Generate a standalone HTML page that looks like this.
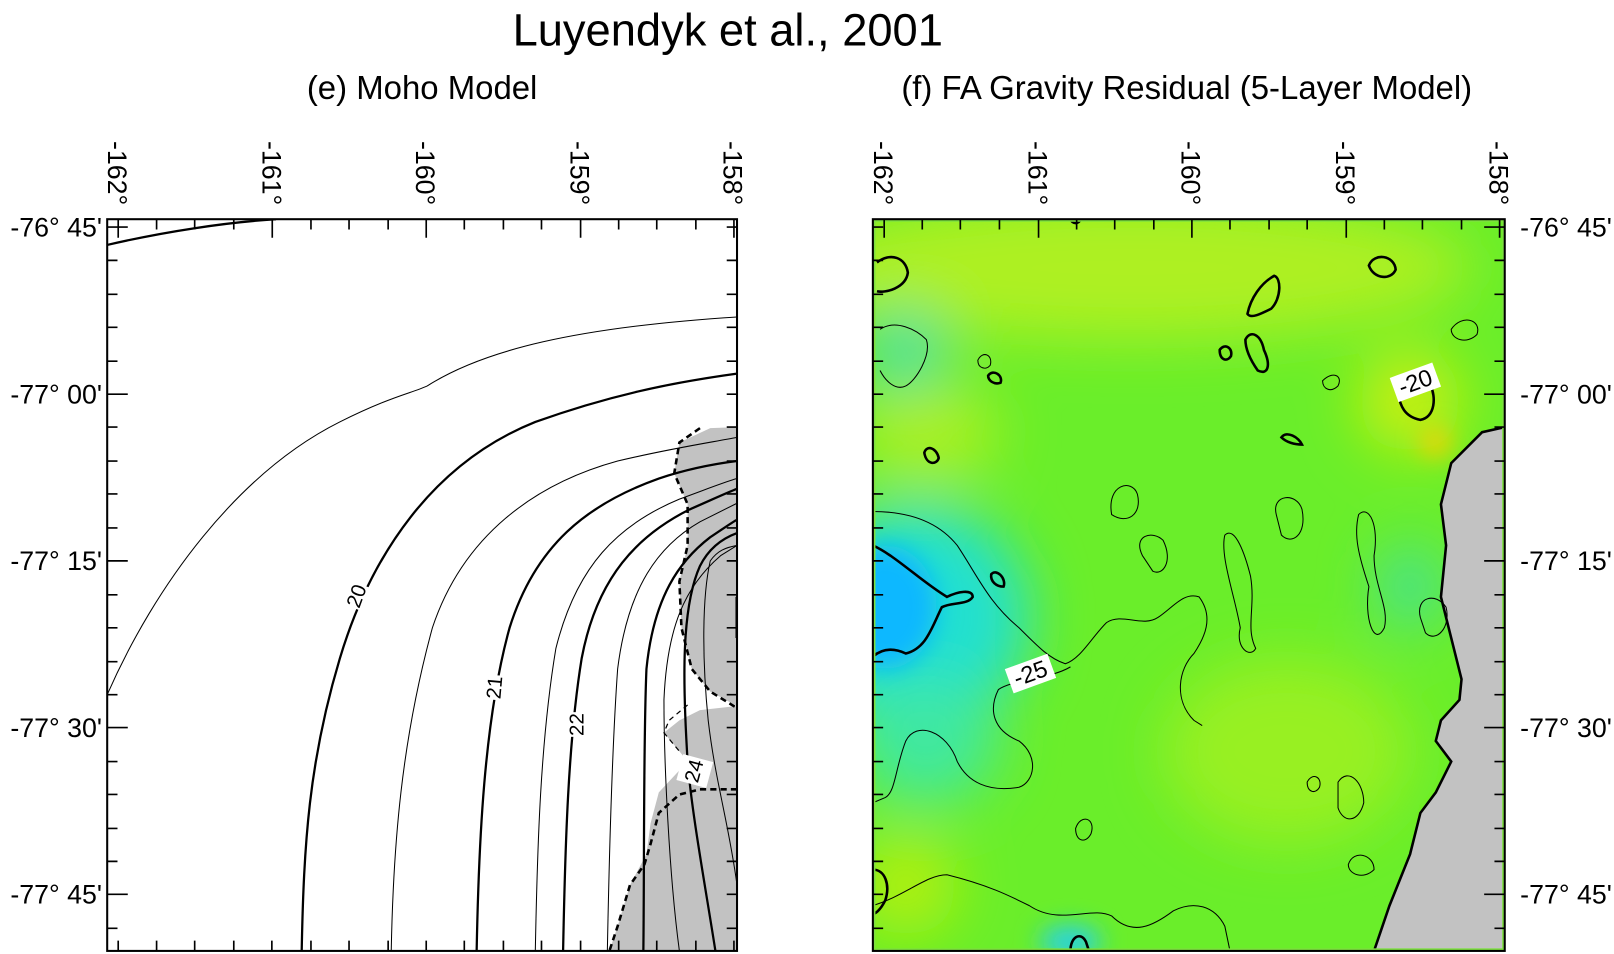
<!DOCTYPE html>
<html><head><meta charset="utf-8"><style>
html,body{margin:0;padding:0;background:#fff;}
svg{display:block;font-family:"Liberation Sans",sans-serif;}
</style></head><body>
<svg width="1614" height="954" viewBox="0 0 1568 927" xmlns="http://www.w3.org/2000/svg">
<defs>
<clipPath id="cl"><rect x="104" y="213" width="612" height="711"/></clipPath>
<clipPath id="cr"><rect x="848" y="213" width="614" height="711"/></clipPath>
<filter id="bl" x="-50%" y="-50%" width="200%" height="200%"><feGaussianBlur stdDeviation="28"/></filter>
<filter id="bl2" x="-50%" y="-50%" width="200%" height="200%"><feGaussianBlur stdDeviation="12"/></filter>
</defs>
<text x="707" y="44" font-size="44" text-anchor="middle">Luyendyk et al., 2001</text>
<text x="410" y="96" font-size="32" text-anchor="middle">(e) Moho Model</text>
<text x="1153" y="96" font-size="32" text-anchor="middle">(f) FA Gravity Residual (5-Layer Model)</text>

<g clip-path="url(#cl)">
<path d="M716,415 L690,416 L660,430 L655,460 L668,490 L668,530 L660,565 L662,610 L672,650 L690,672 L716,686 Z" fill="#c2c2c2"/>
<path d="M716,686 L680,690 L660,700 L645,712 L660,730 L668,740 L640,770 L632,800 L628,830 L612,860 L600,900 L592,924 L716,924 Z" fill="#c2c2c2"/>
<path d="M680,416 L660,430 L655,460 L668,490 L668,530 L660,565 L662,610 L672,650 L690,672 L716,688" fill="none" stroke="#000" stroke-width="2.5" stroke-dasharray="6,4"/>
<path d="M716,767 L680,767 L660,772 L640,790 L632,820 L626,840 L612,860 L600,900 L592,924" fill="none" stroke="#000" stroke-width="2.5" stroke-dasharray="6,4"/>
<path d="M668,685 L650,700 L645,712 L660,730" fill="none" stroke="#000" stroke-width="1.2" stroke-dasharray="5,4"/>
<g fill="none" stroke="#000">
<path d="M104,238 C160,225 220,216 268,213" stroke-width="2.2"/>
<path d="M104,675 C150,570 230,460 330,410 C380,385 400,382 415,375 C470,340 560,318 716,308" stroke-width="1"/>
<path d="M293,924 C295,820 300,740 330,640 C360,540 420,450 520,410 C590,385 650,372 716,363" stroke-width="2.2"/>
<path d="M380,924 C382,820 390,720 420,610 C450,520 520,470 600,448 C650,436 690,430 716,425" stroke-width="1"/>
<path d="M463,924 C465,820 470,700 495,610 C520,530 570,490 640,465 C670,455 700,450 716,448" stroke-width="2.2"/>
<path d="M520,924 C522,820 525,720 540,630 C560,550 600,510 660,485 C690,474 705,468 716,465" stroke-width="1"/>
<path d="M547,924 C549,820 552,720 565,640 C580,560 620,520 670,495 C695,484 708,478 716,475" stroke-width="2.2"/>
<path d="M590,924 C592,820 595,720 600,650 C610,570 640,530 680,507 C700,497 710,492 716,489" stroke-width="1"/>
<path d="M625,924 C626,830 625,720 628,650 C635,580 660,545 690,522 C705,512 712,507 716,505" stroke-width="2.2"/>
<path d="M660,924 C650,850 645,740 645,680 C648,610 665,570 700,540 L716,530" stroke-width="1"/>
<path d="M695,924 C685,860 672,790 668,740 C663,660 662,590 680,550 C690,530 705,522 716,518" stroke-width="2.2"/>
<path d="M716,860 C708,800 695,760 688,700 C682,640 682,580 690,545 C697,535 705,532 716,530" stroke-width="1"/>
<path d="M716,580 L716,620" stroke-width="3"/>
</g>
<rect x="334" y="564" width="24" height="34" fill="#fff" transform="rotate(-70 346 579)"/>
<text x="346" y="586" font-size="20" text-anchor="middle" transform="rotate(-70 346 579)">20</text>
<rect x="468" y="654" width="24" height="32" fill="#fff" transform="rotate(-85 480 668)"/>
<text x="480" y="675" font-size="20" text-anchor="middle" transform="rotate(-85 480 668)">21</text>
<rect x="548" y="688" width="24" height="32" fill="#fff" transform="rotate(-90 560 704)"/>
<text x="560" y="711" font-size="20" text-anchor="middle" transform="rotate(-90 560 704)">22</text>
<rect x="661" y="735" width="26" height="30" fill="#fff" transform="rotate(-75 674 749)"/>
<text x="674" y="756" font-size="20" text-anchor="middle" transform="rotate(-75 674 749)">24</text>
</g>

<g clip-path="url(#cr)">
<rect x="848" y="213" width="614" height="711" fill="#6aee2a"/>
<g filter="url(#bl)">
<ellipse cx="1100" cy="260" rx="330" ry="70" fill="#aef024"/>
<ellipse cx="900" cy="420" rx="70" ry="50" fill="#a8f020"/>
<ellipse cx="1370" cy="390" rx="50" ry="50" fill="#c8f010"/>
<ellipse cx="1250" cy="730" rx="120" ry="90" fill="#98f020"/>
<ellipse cx="880" cy="860" rx="50" ry="50" fill="#b0f010"/>
<ellipse cx="890" cy="600" rx="110" ry="110" fill="#20e0d0"/>
<ellipse cx="900" cy="720" rx="70" ry="60" fill="#40e8a0"/>
<ellipse cx="880" cy="340" rx="40" ry="40" fill="#40e0a0"/>
<ellipse cx="1370" cy="570" rx="30" ry="40" fill="#40e0a0"/>
</g>
<g filter="url(#bl2)">
<ellipse cx="860" cy="590" rx="50" ry="60" fill="#10b8ff"/>
<ellipse cx="1040" cy="915" rx="30" ry="15" fill="#20d0f0"/>
<ellipse cx="1395" cy="430" rx="14" ry="14" fill="#f8d000"/>
</g>
<path d="M1462,415 L1440,420 L1410,450 L1400,490 L1405,530 L1400,580 L1410,620 L1420,660 L1418,680 L1400,700 L1395,720 L1410,740 L1395,770 L1380,790 L1370,830 L1350,880 L1335,924 L1462,924 Z" fill="#c2c2c2" stroke="#000" stroke-width="2.5"/>
<g fill="none" stroke="#000" stroke-width="1">
<path d="M848,497 C880,497 910,505 930,530 C950,560 960,585 990,610 C1010,630 1020,640 1035,645 C1050,640 1060,620 1075,605 C1090,595 1110,610 1125,600 C1140,590 1150,575 1165,580 C1180,600 1170,620 1160,635 C1145,650 1140,680 1160,700 L1168,705"/>
<path d="M1040,648 C1020,660 985,660 970,670 C960,690 965,710 990,720 C1010,735 1005,760 990,765 C960,770 940,760 930,740 C920,710 890,700 880,720 C870,745 870,770 860,775 L848,780"/>
<path d="M848,880 C880,870 900,850 920,850 C960,860 980,870 1000,880 C1030,900 1060,880 1080,890 C1100,910 1120,900 1140,885 C1160,875 1180,880 1190,900 L1195,924"/>
<path d="M1110,540 C1100,520 1120,515 1130,525 C1140,545 1130,560 1120,555 Z"/>
<path d="M1080,500 C1075,470 1100,465 1105,480 C1110,500 1095,510 1080,500 Z"/>
<path d="M1240,500 C1235,480 1260,478 1265,495 C1270,520 1255,530 1245,520 Z"/>
<path d="M1190,520 C1200,510 1210,540 1215,560 C1220,590 1210,610 1220,630 C1215,640 1200,630 1205,610 C1200,580 1185,540 1190,520 Z"/>
<path d="M1320,500 C1330,490 1340,510 1335,540 C1335,570 1350,590 1345,610 C1335,630 1325,600 1330,570 C1320,540 1315,520 1320,500 Z"/>
<path d="M1380,600 C1375,580 1395,575 1405,590 C1410,610 1395,625 1385,615 Z"/>
<path d="M1410,320 C1420,305 1440,310 1435,325 C1425,335 1410,330 1410,320 Z"/>
<path d="M1300,760 C1310,745 1325,760 1325,780 C1320,800 1305,800 1300,785 Z"/>
<path d="M1045,805 C1050,790 1065,795 1060,810 C1055,820 1045,818 1045,805 Z"/>
<path d="M1270,760 C1275,750 1285,755 1282,765 C1278,772 1270,770 1270,760 Z"/>
<path d="M1310,840 C1315,825 1335,830 1335,845 C1325,855 1310,850 1310,840 Z"/>
<path d="M855,320 C870,310 890,320 900,330 C905,345 890,370 880,375 C870,380 860,370 855,360"/>
<path d="M950,350 C955,340 965,345 962,355 C958,360 950,358 950,350 Z"/>
<path d="M1285,370 C1295,360 1305,365 1300,375 C1293,382 1285,378 1285,370 Z"/>
</g>
<g fill="none" stroke="#000" stroke-width="2.5">
<path d="M848,530 C870,540 895,565 920,580 C930,575 945,572 945,580 C940,588 925,585 915,590 C905,610 900,630 880,635 C865,628 855,632 848,638"/>
<path d="M852,255 C865,245 880,250 882,265 C880,280 860,285 852,283"/>
<path d="M1330,258 C1335,245 1355,248 1356,262 C1352,272 1335,272 1330,258 Z"/>
<path d="M1358,380 C1360,395 1365,405 1380,408 C1395,405 1395,385 1390,375"/>
<path d="M1212,305 C1215,290 1225,275 1238,268 C1245,270 1245,290 1235,300 C1225,305 1215,310 1212,305 Z"/>
<path d="M1210,330 C1215,320 1225,325 1228,340 C1235,355 1232,365 1222,360 C1215,350 1210,340 1210,330 Z"/>
<path d="M1185,340 C1190,333 1198,338 1196,346 C1192,352 1185,350 1185,340 Z"/>
<path d="M1245,425 C1250,418 1262,425 1265,432 C1258,432 1250,430 1245,425 Z"/>
<path d="M898,440 C900,432 910,435 912,445 C910,452 900,452 898,440 Z"/>
<path d="M960,365 C965,358 975,365 972,372 C966,374 960,370 960,365 Z"/>
<path d="M963,558 C968,552 978,562 975,570 C968,570 962,565 963,558 Z"/>
<path d="M1040,924 C1040,910 1050,905 1055,915 L1058,924"/>
<path d="M848,845 C860,845 865,860 860,875 C855,885 850,888 848,888"/>
<path d="M1040,213 C1042,218 1048,218 1050,213"/>
</g>
<rect x="979" y="642" width="44" height="25" fill="#fff" transform="rotate(-20 1001 654)"/>
<text x="1001" y="662" font-size="23" text-anchor="middle" transform="rotate(-20 1001 654)">-25</text>
<rect x="1353" y="359" width="44" height="25" fill="#fff" transform="rotate(-20 1375 371)"/>
<text x="1375" y="379" font-size="23" text-anchor="middle" transform="rotate(-20 1375 371)">-20</text>
</g>
<rect x="849" y="214" width="612" height="709" fill="none" stroke="#7ee040" stroke-width="3"/>

<g stroke="#000" stroke-width="2" fill="none">
<rect x="104" y="213" width="612" height="711"/>
<rect x="848" y="213" width="614" height="711"/>
</g>
<g stroke="#000" stroke-width="1.6">
<path d="M104,220.6h20M104,383h20M104,545h20M104,707h20M104,869h20
M104,253h10M104,286h10M104,318h10M104,351h10M104,415h10M104,448h10M104,480h10M104,513h10M104,578h10M104,610h10M104,643h10M104,675h10M104,740h10M104,772h10M104,805h10M104,837h10M104,902h10
M716,220.6h-10M716,253h-10M716,286h-10M716,318h-10M716,351h-10M716,383h-10M716,415h-10M716,448h-10M716,480h-10M716,513h-10M716,545h-10M716,578h-10M716,610h-10M716,643h-10M716,675h-10M716,707h-10M716,740h-10M716,772h-10M716,805h-10M716,837h-10M716,869h-10M716,902h-10"/>
<path d="M114.7,213v18M264.4,213v18M414,213v18M564,213v18M713,213v18
M152,213v10M189,213v10M227,213v10M302,213v10M339,213v10M377,213v10M451,213v10M489,213v10M526,213v10M601,213v10M638,213v10M676,213v10
M114.7,924v-10M152,924v-10M189,924v-10M227,924v-10M264,924v-10M302,924v-10M339,924v-10M377,924v-10M414,924v-10M451,924v-10M489,924v-10M526,924v-10M564,924v-10M601,924v-10M638,924v-10M676,924v-10M713,924v-10"/>
</g>
<g stroke="#000" stroke-width="1.6">
<path d="M1462,220.6h-20M1462,383h-20M1462,545h-20M1462,707h-20M1462,869h-20
M1462,253h-10M1462,286h-10M1462,318h-10M1462,351h-10M1462,415h-10M1462,448h-10M1462,480h-10M1462,513h-10M1462,578h-10M1462,610h-10M1462,643h-10M1462,675h-10M1462,740h-10M1462,772h-10M1462,805h-10M1462,837h-10M1462,902h-10
M848,220.6h10M848,253h10M848,286h10M848,318h10M848,351h10M848,383h10M848,415h10M848,448h10M848,480h10M848,513h10M848,545h10M848,578h10M848,610h10M848,643h10M848,675h10M848,707h10M848,740h10M848,772h10M848,805h10M848,837h10M848,869h10M848,902h10"/>
<path d="M859,213v18M1009,213v18M1158,213v18M1308,213v18M1457,213v18
M896,213v10M933,213v10M971,213v10M1046,213v10M1083,213v10M1121,213v10M1195,213v10M1233,213v10M1270,213v10M1345,213v10M1382,213v10M1420,213v10"/>
</g>

<g font-size="26">
<g text-anchor="end">
<text x="99" y="230">-76° 45'</text>
<text x="99" y="392">-77° 00'</text>
<text x="99" y="554">-77° 15'</text>
<text x="99" y="716">-77° 30'</text>
<text x="99" y="878">-77° 45'</text>
</g>
<text x="1477" y="230">-76° 45'</text>
<text x="1477" y="392">-77° 00'</text>
<text x="1477" y="554">-77° 15'</text>
<text x="1477" y="716">-77° 30'</text>
<text x="1477" y="878">-77° 45'</text>
<text transform="translate(105,137) rotate(90)">-162°</text>
<text transform="translate(255,137) rotate(90)">-161°</text>
<text transform="translate(404,137) rotate(90)">-160°</text>
<text transform="translate(554,137) rotate(90)">-159°</text>
<text transform="translate(703,137) rotate(90)">-158°</text>
<text transform="translate(849,137) rotate(90)">-162°</text>
<text transform="translate(999,137) rotate(90)">-161°</text>
<text transform="translate(1148,137) rotate(90)">-160°</text>
<text transform="translate(1298,137) rotate(90)">-159°</text>
<text transform="translate(1447,137) rotate(90)">-158°</text>
</g>
</svg>
</body></html>
